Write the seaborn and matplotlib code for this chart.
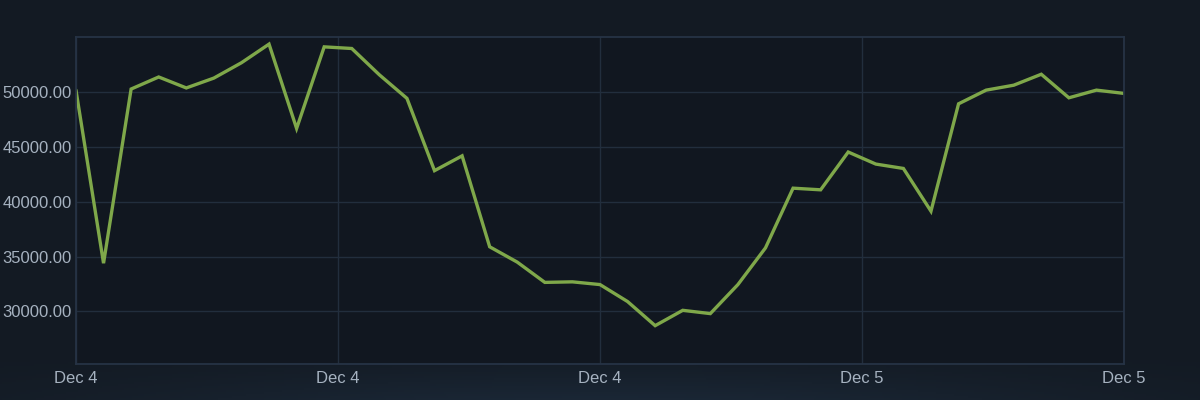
import numpy as np
import pandas as pd
import matplotlib
matplotlib.use("Agg")
import matplotlib.pyplot as plt
import seaborn as sns

# Median sale price, sampled at regular intervals across Dec 4 - Dec 5
prices = [50200, 34400, 50300, 51400, 50400, 51300, 52700, 54400, 46700, 54150,
          54000, 51600, 49450, 42850, 44200, 35900, 34500, 32650, 32700, 32450,
          30900, 28700, 30100, 29800, 32450, 35800, 41250, 41100, 44550, 43450,
          43050, 39150, 48950, 50200, 50650, 51650, 49500, 50200, 49900]
date_labels = ["Dec 4", "Dec 4", "Dec 4", "Dec 5", "Dec 5"]
price_ticks = [30000, 35000, 40000, 45000, 50000]

df = pd.DataFrame({"step": np.arange(len(prices)), "price": prices})

sns.set_theme(style="dark")
plt.rcParams["font.family"] = ["Liberation Sans", "DejaVu Sans"]

bg_fig = "#131a23"
bg_ax = "#111720"
grid_c = "#222e3d"
text_c = "#a6b2c0"
line_c = "#7fa84a"

fig = plt.figure(figsize=(12, 4), dpi=100, facecolor=bg_fig)

# soft bluish glow along the bottom edge
glow = fig.add_axes([0, 0, 1, 1], zorder=-10)
h = np.linspace(0, 1, 200)[:, None]
w = np.linspace(-1, 1, 600)[None, :]
intensity = np.clip(1 - h / 0.12, 0, 1) * np.exp(-(w * 1.2) ** 2)
base = np.array([0x13, 0x1a, 0x23]) / 255.0
tint = np.array([0x1b, 0x28, 0x37]) / 255.0
img = base + (tint - base) * intensity[..., None] * 0.9
glow.imshow(img, origin="lower", extent=[0, 1, 0, 1], aspect="auto")
glow.axis("off")

ax = fig.add_axes([0.0633, 0.09, 0.8734, 0.8175])
ax.set_facecolor(bg_ax)

sns.lineplot(data=df, x="step", y="price", ax=ax, color=line_c,
             linewidth=2.4, solid_joinstyle="miter")

n = len(prices)
ax.set_xlim(0, n - 1)
ax.set_ylim(25200, 55050)
ax.set_xticks(np.linspace(0, n - 1, len(date_labels)))
ax.set_xticklabels(date_labels)
ax.set_yticks(price_ticks)
ax.set_yticklabels([f"{v:.2f}" for v in price_ticks])
ax.set_xlabel("")
ax.set_ylabel("")

ax.grid(True, color=grid_c, linewidth=1.0)
ax.set_axisbelow(True)
for s in ax.spines.values():
    s.set_visible(True)
    s.set_color("#263345")
    s.set_linewidth(1.3)

ax.tick_params(axis="both", length=0, colors=text_c, labelsize=12)
ax.tick_params(axis="y", pad=3)
ax.tick_params(axis="x", pad=5)

fig.savefig("out.png", dpi=100, facecolor=bg_fig)
